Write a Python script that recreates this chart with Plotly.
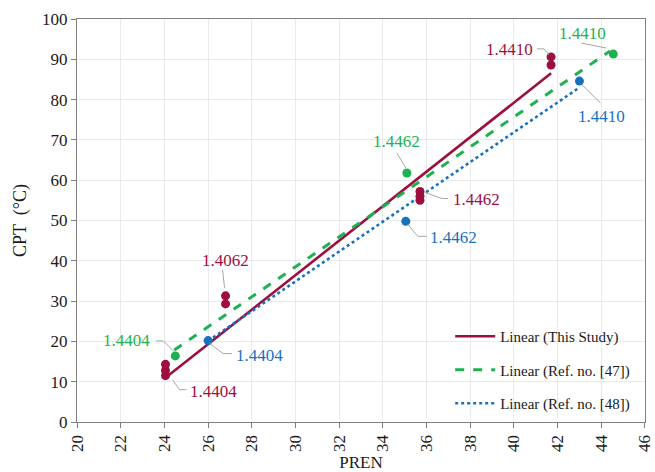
import plotly.graph_objects as go

# ---- measured data -------------------------------------------------------
this_x = [24.05, 24.05, 24.05, 26.8, 26.8, 35.7, 35.7, 35.7, 41.7, 41.7]
this_y = [14.3, 12.8, 11.5, 31.3, 29.3, 57.2, 56.0, 55.0, 90.6, 88.6]

ref47_x = [24.5, 35.1, 44.55]
ref47_y = [16.4, 61.8, 91.3]

ref48_x = [26.0, 35.05, 43.0]
ref48_y = [20.2, 49.8, 84.6]

# linear trend lines: (slope, intercept, x_start, x_end)
fit_this = (4.28, -91.96, 24.05, 41.7)
fit_47 = (3.72, -73.1, 24.45, 44.4)
fit_48 = (3.70, -76.1, 26.0, 42.9)

x_ticks = [20, 22, 24, 26, 28, 30, 32, 34, 36, 38, 40, 42, 44, 46]
y_ticks = [0, 10, 20, 30, 40, 50, 60, 70, 80, 90, 100]

RED = "#9C0F3F"
GREEN = "#1DB152"
BLUE = "#1672BF"
FONT = "Liberation Serif"

fig = go.Figure()


def fit_line(fit):
    k, b, x0, x1 = fit
    return [x0, x1], [k * x0 + b, k * x1 + b]


series = [
    (this_x, this_y, RED, fit_this, "solid", 2.6, "Linear (This Study)"),
    (ref47_x, ref47_y, GREEN, fit_47, "dash", 3.0, "Linear (Ref. no. [47])"),
    (ref48_x, ref48_y, BLUE, fit_48, "dot", 2.6, "Linear (Ref. no. [48])"),
]

for i, (xs, ys, col, fit, dash, w, name) in enumerate(series):
    lx, ly = fit_line(fit)
    fig.add_trace(go.Scatter(
        x=lx, y=ly, mode="lines", name=name,
        line=dict(color=col, width=w, dash=dash),
        legendgroup=f"g{i}", showlegend=True,
    ))
for xs, ys, col, *_ in series:
    fig.add_trace(go.Scatter(
        x=xs, y=ys, mode="markers", showlegend=False,
        marker=dict(color=col, size=9, line=dict(width=0)),
    ))

# ---- value labels with elbow leader lines (pixel offsets, y downwards) ---
labels = [
    # (x, y, text, colour, leader path, text offset)
    (this_x[2], this_y[2], "1.4404", RED, [(7, 4), (14, 14), (21, 14)], (48, 16)),
    (ref47_x[0], ref47_y[0], "1.4404", GREEN, [(-1, -4), (-12, -15), (-19, -15)], (-49, -15)),
    (ref48_x[0], ref48_y[0], "1.4404", BLUE, [(2, 3), (15, 13), (24, 13)], (51, 15)),
    (this_x[3], this_y[3], "1.4062", RED, [(-1, -8), (-3, -26)], (0, -35)),
    (ref47_x[1], ref47_y[1], "1.4462", GREEN, [(-1, -5), (-10, -20)], (-10, -31)),
    (this_x[5], this_y[5], "1.4462", RED, [(5, 1), (22, 7), (28, 7)], (57, 8)),
    (ref48_x[1], ref48_y[1], "1.4462", BLUE, [(2, 3), (12, 15), (21, 15)], (48, 16)),
    (this_x[8], this_y[8], "1.4410", RED, [(-2, -2), (-7, -8), (-14, -8)], (-42, -7)),
    (ref47_x[2], ref47_y[2], "1.4410", GREEN, [(-7, -6), (-32, -11)], (-31, -21)),
    (ref48_x[2], ref48_y[2], "1.4410", BLUE, [(3, 4), (21, 22)], (22, 35)),
]

for x, y, txt, col, path, (tx, ty) in labels:
    d = "M " + " L ".join(f"{px},{-py}" for px, py in path)
    fig.add_shape(
        type="path", path=d, xref="x", yref="y",
        xsizemode="pixel", ysizemode="pixel", xanchor=x, yanchor=y,
        line=dict(color="#A6A6A6", width=1),
    )
    fig.add_annotation(
        x=x, y=y, text=txt, showarrow=False, xshift=tx, yshift=-ty,
        font=dict(family=FONT, size=17, color=col),
    )

axis_common = dict(
    showline=True, linecolor="#7F7F7F", linewidth=1.3, mirror=True,
    showgrid=True, gridcolor="#EAEAEA", gridwidth=1,
    ticks="outside", ticklen=5, tickcolor="#7F7F7F", tickwidth=1,
    zeroline=False, automargin=False, tickmode="array",
    ticklabeloverflow="allow",
    tickfont=dict(family=FONT, size=17, color="#1A1A1A"),
)

fig.update_xaxes(
    range=[19.999, 46.001], tickvals=x_ticks, ticktext=[str(v) for v in x_ticks],
    tickangle=-90,
    title=dict(text="PREN", font=dict(family=FONT, size=17, color="#1A1A1A"), standoff=13),
    **axis_common,
)
fig.update_yaxes(
    range=[0, 100.001], tickvals=y_ticks, ticktext=[str(v) for v in y_ticks],
    title=dict(text="CPT  (°C)", font=dict(family=FONT, size=18, color="#1A1A1A"), standoff=10),
    **axis_common,
)

fig.update_layout(
    width=655, height=472,
    margin=dict(l=77, r=10, t=19, b=50),
    plot_bgcolor="white", paper_bgcolor="white",
    legend=dict(
        x=0.657, y=0.253, xanchor="left", yanchor="top",
        font=dict(family=FONT, size=15, color="#1A1A1A"),
        tracegroupgap=11, bgcolor="rgba(255,255,255,0)", itemwidth=40,
    ),
)

fig.write_html("out.html")
